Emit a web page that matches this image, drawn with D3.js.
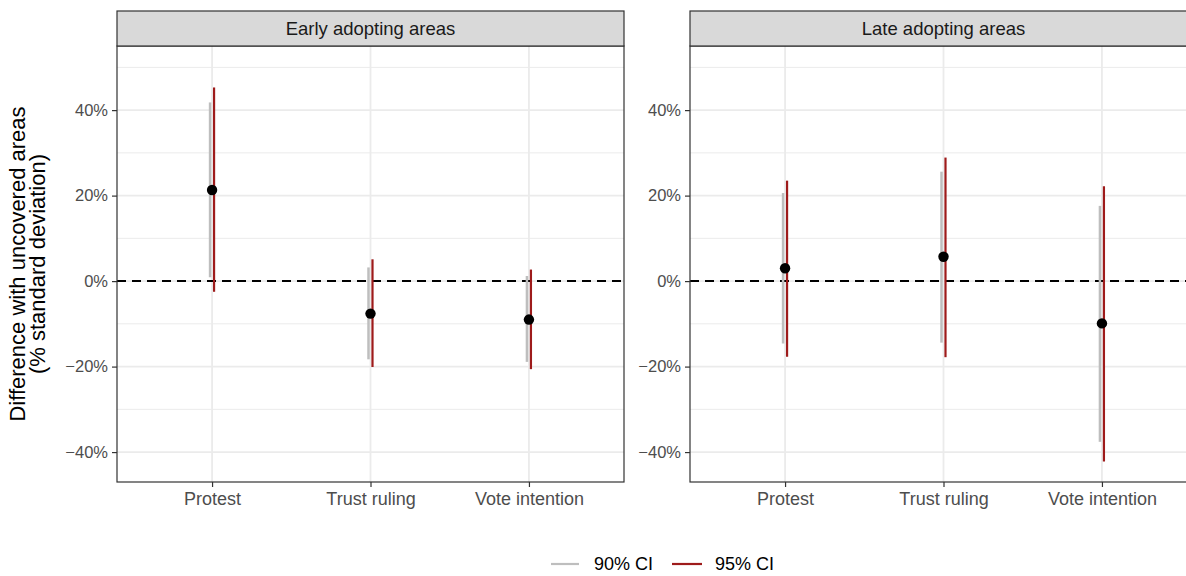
<!DOCTYPE html>
<html>
<head>
<meta charset="utf-8">
<script src="https://cdn.jsdelivr.net/npm/d3@7"></script>
<style>
html,body{margin:0;padding:0;background:#fff;}
svg{display:block;font-family:"Liberation Sans",Arial,Helvetica,sans-serif;}
</style>
</head>
<body>
<svg id="chart" width="1186" height="576"></svg>
<script>
const panels = ["Early adopting areas", "Late adopting areas"];
const categories = ["Protest", "Trust ruling", "Vote intention"];
// point estimates (% SD)
const estEarly = [21.3, -7.6, -9.0];
const estLate = [3.0, 5.7, -9.9];
// 90% CI
const lo90Early = [0.9, -18.3, -18.9];
const hi90Early = [41.8, 3.2, 1.2];
const lo90Late = [-14.6, -14.4, -37.6];
const hi90Late = [20.6, 25.6, 17.6];
// 95% CI
const lo95Early = [-2.5, -20.1, -20.6];
const hi95Early = [45.3, 5.1, 2.7];
const lo95Late = [-17.7, -17.8, -42.2];
const hi95Late = [23.5, 28.9, 22.2];
const yTicks = [-40, -20, 0, 20, 40];
const yMinor = [-30, -10, 10, 30, 50];
const legendLabels = ["90% CI", "95% CI"];

const panelData = [
  {name: panels[0], est: estEarly, lo90: lo90Early, hi90: hi90Early, lo95: lo95Early, hi95: hi95Early},
  {name: panels[1], est: estLate, lo90: lo90Late, hi90: hi90Late, lo95: lo95Late, hi95: hi95Late}
];

(function () {
const svg = d3.select("#chart");
const colGray = "#BEBEBE", colRed = "#9E1B1B";
const panelLeft = [117, 690], panelW = 507;
const pTop = 46, pBottom = 482, stripTop = 11;

const y = d3.scaleLinear().domain([-47.0, 55.0]).range([pBottom, pTop]);

panelData.forEach((p, i) => {
  const x0 = panelLeft[i];
  const x = d3.scalePoint().domain(categories).range([x0, x0 + panelW]).padding(0.6);
  const g = svg.append("g");
  g.selectAll(".minor").data(yMinor).join("line")
    .attr("x1", x0).attr("x2", x0 + panelW)
    .attr("y1", d => y(d)).attr("y2", d => y(d))
    .attr("stroke", "#EBEBEB").attr("stroke-width", 1);
  g.selectAll(".major").data(yTicks).join("line")
    .attr("x1", x0).attr("x2", x0 + panelW)
    .attr("y1", d => y(d)).attr("y2", d => y(d))
    .attr("stroke", "#EBEBEB").attr("stroke-width", 1.8);
  g.selectAll(".vmajor").data(categories).join("line")
    .attr("x1", d => x(d)).attr("x2", d => x(d))
    .attr("y1", pTop).attr("y2", pBottom)
    .attr("stroke", "#EBEBEB").attr("stroke-width", 1.8);
  g.append("line").attr("x1", x0).attr("x2", x0 + panelW)
    .attr("y1", y(0)).attr("y2", y(0))
    .attr("stroke", "#000").attr("stroke-width", 2).attr("stroke-dasharray", "9,6");
  g.selectAll(".ci90").data(categories).join("line")
    .attr("x1", d => x(d) - 2).attr("x2", d => x(d) - 2)
    .attr("y1", (d, j) => y(p.lo90[j])).attr("y2", (d, j) => y(p.hi90[j]))
    .attr("stroke", colGray).attr("stroke-width", 2.5);
  g.selectAll(".ci95").data(categories).join("line")
    .attr("x1", d => x(d) + 2).attr("x2", d => x(d) + 2)
    .attr("y1", (d, j) => y(p.lo95[j])).attr("y2", (d, j) => y(p.hi95[j]))
    .attr("stroke", colRed).attr("stroke-width", 2.2);
  g.selectAll(".pt").data(categories).join("circle")
    .attr("cx", d => x(d)).attr("cy", (d, j) => y(p.est[j]))
    .attr("r", 5.2).attr("fill", "#000");
  g.append("rect").attr("x", x0).attr("y", pTop).attr("width", panelW).attr("height", pBottom - pTop)
    .attr("fill", "none").attr("stroke", "#333").attr("stroke-width", 1.2);
  g.append("rect").attr("x", x0).attr("y", stripTop).attr("width", panelW).attr("height", pTop - stripTop)
    .attr("fill", "#D9D9D9").attr("stroke", "#333").attr("stroke-width", 1.2);
  g.append("text").attr("x", i === 0 ? x0 + panelW / 2 : x(categories[1])).attr("y", (stripTop + pTop) / 2)
    .attr("dy", "0.35em").attr("text-anchor", "middle").attr("font-size", 18.5).attr("fill", "#1A1A1A")
    .text(p.name);
  const ya = g.append("g").attr("transform", `translate(${x0},0)`)
    .call(d3.axisLeft(y).tickValues(yTicks).tickSize(5).tickPadding(4)
      .tickFormat(d => (d < 0 ? "\u2212" + Math.abs(d) : d) + "%"));
  ya.select(".domain").remove();
  ya.selectAll("line").attr("stroke", "#333").attr("stroke-width", 1.2);
  ya.selectAll("text").attr("font-size", 16.5).attr("fill", "#4D4D4D")
    .attr("font-family", "Liberation Sans, Arial, sans-serif");
  const xa = g.append("g").attr("transform", `translate(0,${pBottom})`)
    .call(d3.axisBottom(x).tickSize(5).tickPadding(5));
  xa.select(".domain").remove();
  xa.selectAll("line").attr("stroke", "#333").attr("stroke-width", 1.2);
  xa.selectAll("text").attr("font-size", 18).attr("fill", "#4D4D4D")
    .attr("font-family", "Liberation Sans, Arial, sans-serif");
});

const yt = svg.append("text").attr("transform", `translate(25,${(pTop + pBottom) / 2}) rotate(-90)`)
  .attr("text-anchor", "middle").attr("font-size", 22).attr("fill", "#000");
yt.append("tspan").attr("x", 0).attr("dy", 0).text("Difference with uncovered areas");
yt.append("tspan").attr("x", 0).attr("dy", 20).text("(% standard deviation)");

const legend = svg.append("g");
const legItems = [
  {label: legendLabels[0], color: colGray, x1: 551, x2: 579, tx: 594},
  {label: legendLabels[1], color: colRed, x1: 672, x2: 702, tx: 715}
];
legItems.forEach(it => {
  legend.append("line").attr("x1", it.x1).attr("x2", it.x2).attr("y1", 564).attr("y2", 564)
    .attr("stroke", it.color).attr("stroke-width", 2.2);
  legend.append("text").attr("x", it.tx).attr("y", 564).attr("dy", "0.35em")
    .attr("font-size", 18).attr("fill", "#000").text(it.label);
});
})();
</script>
</body>
</html>
